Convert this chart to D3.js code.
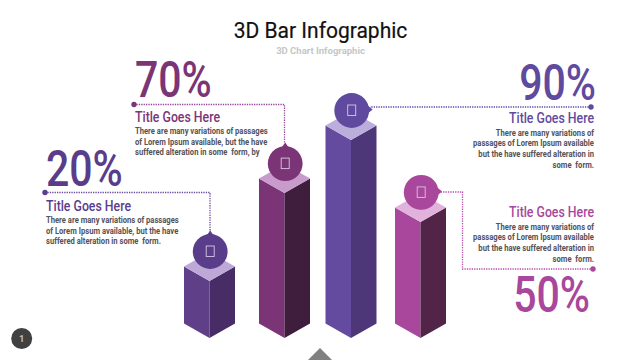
<!DOCTYPE html>
<html>
<head>
<meta charset="utf-8">
<script src="https://cdn.jsdelivr.net/npm/d3@7"></script>
<style>
  html, body { margin: 0; padding: 0; background: #fff; }
  svg { display: block; }
  text { font-family: Roboto, sans-serif; }
</style>
</head>
<body>
<svg id="chart"></svg>
<script>
const categories = ['a', 'b', 'c', 'd'];
const percentLabels = ['20%', '70%', '90%', '50%'];
// drawn height of each column on a 0-100 axis; the slide is not to scale with its labels
const barLevels = [19, 48.3, 66, 38.7];
const cardTitle = 'Title Goes Here';
const bodyLeft1 = ['There are many variations of passages', 'of Lorem Ipsum available, but the have', 'suffered alteration in some  form.'];
const bodyLeft2 = ['There are many variations of passages', 'of Lorem Ipsum available, but the have', 'suffered alteration in some  form, by'];
const bodyRight = ['There are many variations of', 'passages of Lorem Ipsum available', 'but the have suffered alteration in', 'some  form.'];
const cardBodies = [bodyLeft1, bodyLeft2, bodyRight, bodyRight];

const width = 640;
const height = 360;

const svg = d3.select('#chart').attr('width', width).attr('height', height);

// column centres are hand-spaced on the slide, so ordinal rather than band
const xScale = d3.scaleOrdinal().domain(categories).range([209.5, 284.5, 351, 420.5]);
const yScale = d3.scaleLinear().domain([0, 100]).range([338, 38]);

const halfWidth = 25.5;
const slant = 14.5;

const colors = {
  a: { front: '#5f3f87', side: '#472c66', top: '#bda8d8', badge: '#5a3d8a', line: '#6a4a9c', big: '#5a3d8a' },
  b: { front: '#7b3577', side: '#3f1d3d', top: '#c99bcc', badge: '#7b3577', line: '#93459a', big: '#7b3577' },
  c: { front: '#654ba0', side: '#4d3778', top: '#bbaedb', badge: '#5f4aa0', line: '#5f4aa8', big: '#5f4aa0' },
  d: { front: '#a8479c', side: '#522448', top: '#e1b2dc', badge: '#a8479c', line: '#b84fae', big: '#a8479c' },
};

// where each card sits: big number, title, body, connector route
const layout = {
  a: { anchor: 'start', textX: 46, bigY: 186, bigX: 46, titleY: 211, bodyY: 223, route: [[45, 192.5], [210, 192.5], [210, 233]] },
  b: { anchor: 'start', textX: 135, bigY: 97, bigX: 135, titleY: 122, bodyY: 134, route: [[134, 104.5], [284.5, 104.5], [284.5, 143]] },
  c: { anchor: 'end', textX: 594, bigY: 100, bigX: 596, titleY: 122.5, bodyY: 135.5, route: [[591, 107], [370, 107]] },
  d: { anchor: 'end', textX: 594, bigY: 312, bigX: 590, titleY: 217, bodyY: 229.5, route: [[593, 269], [462.5, 269], [462.5, 192], [440, 192]] },
};

const line = d3.line();

// Roboto Condensed is not installed, so squeeze Roboto to the same width
function condense(selection, factor) {
  selection.each(function () {
    const w = this.getComputedTextLength();
    d3.select(this)
      .attr('textLength', w * factor)
      .attr('lengthAdjust', 'spacingAndGlyphs');
  });
}

/* Header */
svg.append('text')
  .attr('x', 320.5)
  .attr('y', 38)
  .attr('text-anchor', 'middle')
  .attr('font-size', 22)
  .attr('fill', '#111')
  .attr('stroke', '#111')
  .attr('stroke-width', 0.2)
  .text('3D Bar Infographic')
  .call(condense, 0.955);

svg.append('text')
  .attr('x', 320.5)
  .attr('y', 54)
  .attr('text-anchor', 'middle')
  .attr('font-size', 9.5)
  .attr('font-weight', 700)
  .attr('fill', '#c6c6c6')
  .text('3D Chart Infographic');

/* Columns */
const bars = svg.append('g')
  .selectAll('g')
  .data(categories)
  .join('g')
  .attr('class', 'bar');

const apexY = (d, i) => yScale(barLevels[i]);

bars.append('path')
  .attr('fill', (d) => colors[d].front)
  .attr('d', (d, i) => {
    const x = xScale(d);
    return line([[x - halfWidth, apexY(d, i) - slant], [x, apexY(d, i)], [x, yScale(0)], [x - halfWidth, yScale(0) - slant]]) + 'Z';
  });

bars.append('path')
  .attr('fill', (d) => colors[d].side)
  .attr('d', (d, i) => {
    const x = xScale(d);
    return line([[x + halfWidth, apexY(d, i) - slant], [x, apexY(d, i)], [x, yScale(0)], [x + halfWidth, yScale(0) - slant]]) + 'Z';
  });

bars.append('path')
  .attr('fill', (d) => colors[d].top)
  .attr('d', (d, i) => {
    const x = xScale(d);
    const y = apexY(d, i);
    return line([[x - halfWidth, y - slant], [x, y], [x + halfWidth, y - slant], [x, y - 2 * slant]]) + 'Z';
  });

/* Connectors */
const cards = svg.append('g')
  .selectAll('g')
  .data(categories)
  .join('g')
  .attr('class', 'card');

cards.append('path')
  .attr('fill', 'none')
  .attr('stroke', (d) => colors[d].line)
  .attr('stroke-width', 1.3)
  .attr('stroke-dasharray', '1.3 1.1')
  .attr('d', (d) => line(layout[d].route));

cards.append('circle')
  .attr('cx', (d) => layout[d].route[0][0])
  .attr('cy', (d) => layout[d].route[0][1])
  .attr('r', 2.7)
  .attr('fill', (d) => colors[d].badge);

/* Badges */
const badges = bars.append('g')
  .attr('transform', (d, i) => `translate(${xScale(d) + 0.7},${apexY(d, i) - 29.5})`);

badges.append('circle')
  .attr('r', 17.4)
  .attr('fill', (d) => colors[d].badge);

// little nub where the connector meets the badge
badges.append('path')
  .attr('fill', (d) => colors[d].badge)
  .attr('d', (d) => (layout[d].anchor === 'end'
    ? line([[16, -5], [21, -1], [16, 3]])
    : line([[-3.5, -16], [0, -21], [3.5, -16]])) + 'Z');

// the icon font is missing on the slide, it shows an empty box
badges.append('rect')
  .attr('x', -4)
  .attr('y', -5.5)
  .attr('width', 8)
  .attr('height', 10.5)
  .attr('fill', 'none')
  .attr('stroke', '#d9c6e4')
  .attr('stroke-width', 0.9);

/* Card text */
cards.append('text')
  .attr('x', (d) => layout[d].bigX)
  .attr('y', (d) => layout[d].bigY)
  .attr('text-anchor', (d) => layout[d].anchor)
  .attr('font-size', 50)
  .attr('font-weight', 500)
  .attr('fill', (d) => colors[d].big)
  .text((d, i) => percentLabels[i])
  .call(condense, 0.82);

cards.append('text')
  .attr('x', (d) => layout[d].textX)
  .attr('y', (d) => layout[d].titleY)
  .attr('text-anchor', (d) => layout[d].anchor)
  .attr('font-size', 15)
  .attr('font-weight', 500)
  .attr('fill', (d) => colors[d].big)
  .text(cardTitle)
  .call(condense, 0.82);

cards.each(function (d, i) {
  d3.select(this).selectAll('text.body')
    .data(cardBodies[i])
    .join('text')
    .attr('class', 'body')
    .attr('x', layout[d].textX)
    .attr('y', (t, j) => layout[d].bodyY + j * 10.7)
    .attr('text-anchor', layout[d].anchor)
    .attr('font-size', 9.2)
    .attr('font-weight', 700)
    .attr('fill', '#555258')
    .attr('xml:space', 'preserve')
    .style('white-space', 'pre')
    .text((t) => t)
    .call(condense, 0.83);
});

/* Footer */
svg.append('circle')
  .attr('cx', 21.7)
  .attr('cy', 338.5)
  .attr('r', 10.5)
  .attr('fill', '#404040');

svg.append('text')
  .attr('x', 21.7)
  .attr('y', 342)
  .attr('text-anchor', 'middle')
  .attr('font-size', 9.5)
  .attr('font-weight', 700)
  .attr('fill', '#bdbdbd')
  .text('1');

svg.append('path')
  .attr('fill', '#808080')
  .attr('d', line([[320, 348], [332, 360], [308, 360]]) + 'Z');
</script>
</body>
</html>
